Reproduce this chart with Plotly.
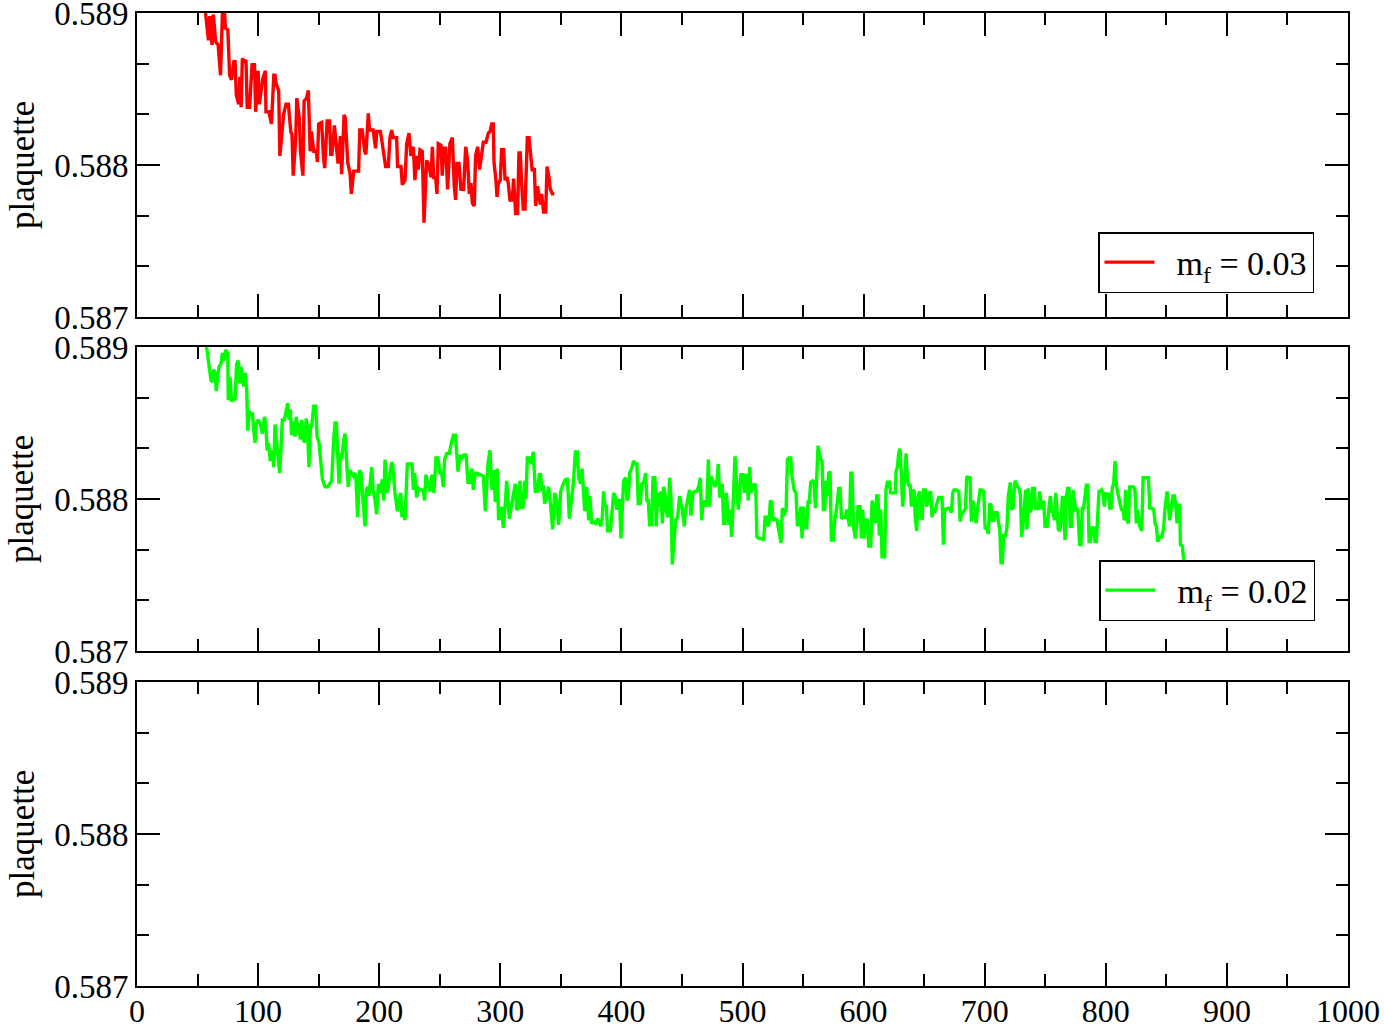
import plotly.graph_objects as go

# ---------------- data ----------------
red_x = [55, 59, 60, 62, 63, 65, 67, 68, 69, 70.5, 72, 73, 75, 76.5, 78, 80, 81, 82, 84, 85, 86, 87, 89, 90,
         91, 93, 95, 97, 98, 100, 101, 102, 104, 106, 106.5, 109, 111, 113, 114, 115, 117, 118, 120, 121,
         123, 125, 127, 128, 129, 131, 132, 134, 135, 137, 138, 140, 141.5, 143, 144, 146, 148, 149, 150,
         152.5, 154, 155, 157, 159, 160, 161, 163, 165, 166, 168, 169, 171, 172, 174, 176, 177, 179, 181,
         183, 184, 186, 188, 189, 191, 192, 195, 197, 198, 201, 202, 205.3, 207.5, 208.9, 210.3, 211.6,
         214.4, 215.2, 218, 219.1, 221.3, 222.7, 224.6, 226.2, 228.2, 229.5, 230.9, 232.3, 233.7, 235.6,
         237, 237.8, 239.2, 241.1, 242.8, 243.9, 245, 246.6, 247.7, 248.8, 251, 252.1, 253.2, 254.9, 256.5,
         258.4, 260.4, 262, 263.1, 264.2, 265.9, 267.5, 269.7, 271.4, 273, 274.4, 275.8, 276.9, 278.5,
         279.6, 281.3, 282.9, 284.6, 286, 288.2, 290.1, 291.5, 292.9, 294.2, 294.8, 296.4, 297.3, 298.4,
         300, 301.1, 302.8, 303.9, 305.5, 306.6, 308, 309.9, 311, 312.7, 314.3, 315.4, 316.5, 317.6, 319,
         320.4, 322.3, 323.7, 325.3, 326.4, 328.1, 329.2, 330.8, 331.9, 333, 334.1, 335.8, 337.5, 338.6,
         340.2, 341.3, 343, 344.6]
red_y = [0.58912, 0.58882, 0.58898, 0.58879, 0.58899, 0.58881, 0.58879, 0.58867, 0.58859, 0.58899, 0.58905,
         0.58890, 0.58889, 0.58859, 0.58856, 0.58868, 0.58868, 0.58846, 0.58840, 0.58858, 0.58838, 0.58870,
         0.58868, 0.58869, 0.58838, 0.58838, 0.58866, 0.58866, 0.58835, 0.58862, 0.58840, 0.58846, 0.58857,
         0.58862, 0.58835, 0.58835, 0.58827, 0.58859, 0.58859, 0.58853, 0.58849, 0.58806, 0.58829, 0.58833,
         0.58840, 0.58840, 0.58822, 0.58820, 0.58793, 0.58816, 0.58844, 0.58831, 0.58809, 0.58793, 0.58842,
         0.58844, 0.58849, 0.58809, 0.58822, 0.58809, 0.58809, 0.58802, 0.58827, 0.58828, 0.58805, 0.58798,
         0.58829, 0.58829, 0.58807, 0.58807, 0.58826, 0.58807, 0.58801, 0.58819, 0.58794, 0.58833, 0.58831,
         0.58802, 0.58794, 0.58781, 0.58796, 0.58796, 0.58796, 0.58823, 0.58823, 0.58809, 0.58807, 0.58834,
         0.58823, 0.58823, 0.58811, 0.58822, 0.58822, 0.58817, 0.58799, 0.58799, 0.58818, 0.58823, 0.58818,
         0.58818, 0.58799, 0.58799, 0.58787, 0.58790, 0.58814, 0.58821, 0.58806, 0.58812, 0.58790, 0.58806,
         0.58797, 0.58810, 0.58809, 0.58762, 0.58777, 0.58803, 0.58800, 0.58792, 0.58812, 0.58791, 0.58792,
         0.58781, 0.58814, 0.58813, 0.58793, 0.58811, 0.58811, 0.58784, 0.58814, 0.58818, 0.58786, 0.58777,
         0.58801, 0.58801, 0.58784, 0.58784, 0.58812, 0.58803, 0.58781, 0.58788, 0.58775, 0.58773, 0.58806,
         0.58812, 0.58797, 0.58806, 0.58815, 0.58815, 0.58821, 0.58822, 0.58827, 0.58827, 0.58802, 0.58790,
         0.58779, 0.58788, 0.58790, 0.58810, 0.58810, 0.58790, 0.58792, 0.58788, 0.58777, 0.58777, 0.58791,
         0.58768, 0.58768, 0.58808, 0.58808, 0.58788, 0.58771, 0.58771, 0.58818, 0.58818, 0.58801, 0.58796,
         0.58798, 0.58773, 0.58786, 0.58781, 0.58774, 0.58781, 0.58769, 0.58769, 0.58799, 0.58792, 0.58784,
         0.58781, 0.58781]

green_x = [55, 57.5, 59.5, 61.1, 62.2, 63.3, 64.4, 65.5, 66.6, 67.7, 69.4, 70.5, 71.6, 73.2, 74.9, 75.4, 76.8,
           78.2, 79.6, 80.9, 82.3, 83.7, 84.8, 85.9, 87.0, 88.1, 89.2, 90.6, 91.4, 92.8, 94.2, 95.3, 96.4,
           97.5, 98.6, 100.2, 101.9, 103.5, 105.2, 106.3, 107.4, 108.5, 110.1, 111.8, 112.9, 114.0, 115.1,
           116.2, 117.8, 118.9, 120.0, 121.7, 123.3, 124.4, 125.5, 126.6, 127.7, 129.4, 130.5, 131.6, 132.7,
           133.8, 134.9, 136.0, 137.1, 138.2, 139.8, 140.9, 142.0, 143.2, 144.3, 145.9, 147.6, 148.7, 150.3,
           151.4, 153.1, 155.3, 157.5, 159.1, 160.8, 162.4, 163.5, 164.6, 165.7, 166.8, 167.9, 169.0, 170.7,
           171.8, 173.4, 174.5, 175.6, 177.3, 178.9, 180.6, 182.2, 183.9, 185.0, 186.6, 188.3, 189.4, 190.5,
           191.6, 192.7, 193.8, 194.9, 196.6, 197.9, 199.3, 200.4, 201.5, 202.6, 203.7, 204.8, 206.2, 207.6,
           208.9, 210.3, 211.1, 213.0, 215.0, 216.6, 217.7, 218.8, 219.9, 221.3, 223.2, 225.4, 227.1, 228.2,
           229.3, 230.9, 232.6, 234.2, 236.4, 237.5, 238.6, 240.6, 241.9, 243.6, 245.2, 246.9, 248.5, 250.2,
           251.8, 252.9, 254.0, 255.7, 257.9, 259.6, 261.2, 262.9, 265.1, 266.7, 268.4, 270.0, 271.7, 273.3,
           275.0, 276.6, 277.7, 279.4, 281.0, 282.1, 283.8, 286.0, 287.6, 288.7, 289.8, 291.5, 293.1, 294.8,
           295.9, 297.5, 298.6, 300.8, 302.5, 304.2, 305.3, 306.4, 307.5, 309.1, 310.8, 312.4, 313.5, 315.2,
           316.3, 317.4, 319.0, 320.1, 321.2, 322.3, 324.0, 325.6, 327.3, 328.9, 330.6, 332.2, 333.3, 334.4,
           335.5, 336.6, 338.3, 339.9, 341.6, 343.2, 344.9, 346.5, 348.2, 349.9, 351.5, 353.2, 354.3, 355.4,
           357.0, 358.7, 360.3, 362.0, 363.6, 364.7, 366.4, 367.5, 368.6, 369.7, 371.3, 373.0, 374.0, 375.4,
           377.1, 378.7, 380.4, 382.0, 383.1, 384.2, 385.3, 386.4, 387.5, 388.6, 390.8, 391.9, 393.6, 394.7,
           396.3, 397.4, 398.5, 399.6, 400.7, 401.8, 403.5, 404.6, 405.7, 406.8, 408.4, 410.1, 411.7, 412.8,
           413.9, 415.6, 416.7, 418.4, 420.0, 421.1, 422.2, 423.3, 425.0, 426.1, 427.7, 428.8, 429.9, 431.0,
           432.7, 433.8, 434.9, 436.0, 437.1, 438.7, 439.8, 440.9, 442.0, 443.1, 444.8, 446.4, 448.1, 449.2,
           450.3, 451.9, 453.0, 454.1, 455.2, 456.3, 457.4, 459.1, 460.2, 462.4, 464.1, 465.2, 466.3, 467.4,
           468.5, 469.6, 470.7, 471.8, 472.9, 474.0, 475.6, 477.3, 478.9, 480.0, 481.1, 482.2, 483.3, 484.4,
           485.5, 486.6, 487.7, 488.8, 489.9, 491.0, 492.1, 493.8, 495.4, 496.5, 497.6, 498.7, 500.4, 501.5,
           502.6, 503.7, 504.8, 505.9, 507.0, 508.6, 509.7, 510.9, 511.9, 513.6, 515.8, 517.5, 518.6, 519.7,
           520.8, 521.9, 523.0, 524.1, 525.2, 526.8, 528.5, 530.1, 531.8, 532.9, 534.0, 535.1, 536.0, 537.1,
           538.2, 539.8, 540.9, 542.6, 544.2, 545.3, 547.0, 548.1, 549.2, 550.3, 551.4, 553.0, 554.1, 555.2,
           556.3, 558.0, 559.1, 560.2, 561.3, 562.4, 563.5, 564.6, 565.7, 566.8, 567.9, 569.0, 570.1, 571.2,
           572.3, 573.4, 575.0, 576.1, 577.3, 578.4, 579.5, 580.6, 581.7, 583.3, 585.0, 586.1, 587.2, 588.3,
           589.4, 590.5, 591.6, 593.2, 594.3, 595.4, 597.1, 598.2, 599.3, 600.4, 601.5, 603.1, 604.2, 605.9,
           607.0, 608.6, 609.7, 610.8, 611.9, 613.0, 614.1, 615.2, 617.4, 618.5, 619.6, 621.3, 622.4, 624.6,
           626.3, 626.8, 627.9, 629.0, 630.1, 631.2, 632.3, 633.4, 634.5, 635.1, 636.2, 637.3, 638.4, 639.5,
           640.6, 641.7, 642.8, 643.9, 645.0, 646.1, 647.2, 648.3, 649.4, 651.0, 652.1, 653.2, 654.3, 655.4,
           656.5, 657.6, 658.7, 659.8, 660.9, 662.0, 663.7, 664.8, 665.9, 667.0, 668.1, 669.8, 671.4, 672.5,
           673.6, 674.7, 676.9, 678.6, 679.7, 680.8, 681.9, 683.0, 684.1, 685.2, 686.3, 687.9, 689.0, 690.1,
           691.2, 692.9, 694.0, 695.1, 696.2, 697.5, 699.2, 700.3, 701.9, 703.0, 704.1, 705.2, 706.3, 707.4,
           708.5, 710.2, 711.3, 712.4, 713.5, 714.6, 715.7, 717.3, 718.4, 719.5, 721.2, 722.3, 723.4, 725.0,
           726.7, 728.3, 729.4, 730.5, 731.6, 732.7, 733.8, 734.9, 736.0, 737.1, 738.3, 739.4, 741.0, 742.1,
           743.2, 744.3, 745.4, 746.5, 747.6, 748.7, 749.8, 751.5, 753.1, 754.2, 755.3, 756.4, 757.5, 758.6,
           759.7, 760.8, 761.9, 763.0, 764.1, 765.2, 766.3, 767.4, 768.5, 769.6, 770.7, 771.8, 772.9, 774.0,
           775.1, 776.8, 778.4, 779.5, 780.6, 781.7, 782.8, 783.9, 785.1, 786.2, 787.3, 788.4, 790.0, 791.1,
           792.2, 793.3, 794.4, 795.5, 796.6, 797.7, 798.8, 799.9, 801.0, 802.1, 803.2, 804.3, 805.4, 806.5,
           807.6, 808.7, 809.8, 810.9, 812.0, 813.1, 814.2, 815.3, 816.4, 817.5, 818.6, 819.7, 821.4, 823.0,
           824.1, 825.2, 826.3, 828.0, 829.7, 830.8, 832.4, 834.1, 835.2, 836.3, 837.9, 839.6, 840.7, 841.8,
           842.9, 844.5, 846.2, 847.8, 848.9, 850.6, 851.7, 852.8, 853.9, 855.5, 856.6, 857.7, 858.8, 859.9,
           861.0, 861.6, 863.2, 864.3]
green_y = [0.58915, 0.58899, 0.58887, 0.58878, 0.58877, 0.58885, 0.58883, 0.58871, 0.58881, 0.58887, 0.58889,
           0.58896, 0.58891, 0.58898, 0.58896, 0.58865, 0.58880, 0.58864, 0.58866, 0.58865, 0.58889, 0.58891,
           0.58876, 0.58887, 0.58880, 0.58874, 0.58883, 0.58872, 0.58845, 0.58858, 0.58855, 0.58857, 0.58845,
           0.58837, 0.58850, 0.58852, 0.58849, 0.58843, 0.58854, 0.58850, 0.58832, 0.58837, 0.58825, 0.58832,
           0.58821, 0.58849, 0.58839, 0.58828, 0.58817, 0.58834, 0.58852, 0.58852, 0.58859, 0.58863, 0.58852,
           0.58859, 0.58842, 0.58851, 0.58841, 0.58854, 0.58843, 0.58850, 0.58839, 0.58852, 0.58841, 0.58837,
           0.58853, 0.58843, 0.58821, 0.58848, 0.58848, 0.58861, 0.58861, 0.58841, 0.58837, 0.58826, 0.58813,
           0.58808, 0.58808, 0.58810, 0.58812, 0.58839, 0.58850, 0.58850, 0.58834, 0.58810, 0.58830, 0.58826,
           0.58839, 0.58843, 0.58821, 0.58808, 0.58819, 0.58817, 0.58815, 0.58817, 0.58788, 0.58819, 0.58817,
           0.58799, 0.58782, 0.58806, 0.58808, 0.58802, 0.58813, 0.58821, 0.58806, 0.58799, 0.58790, 0.58810,
           0.58804, 0.58808, 0.58813, 0.58799, 0.58826, 0.58804, 0.58808, 0.58817, 0.58824, 0.58823, 0.58804,
           0.58792, 0.58801, 0.58804, 0.58788, 0.58795, 0.58786, 0.58823, 0.58823, 0.58823, 0.58806, 0.58817,
           0.58801, 0.58807, 0.58806, 0.58806, 0.58799, 0.58816, 0.58808, 0.58805, 0.58816, 0.58804, 0.58827,
           0.58827, 0.58817, 0.58816, 0.58808, 0.58826, 0.58830, 0.58830, 0.58837, 0.58842, 0.58842, 0.58818,
           0.58829, 0.58827, 0.58829, 0.58829, 0.58811, 0.58811, 0.58820, 0.58806, 0.58817, 0.58817, 0.58816,
           0.58816, 0.58815, 0.58792, 0.58807, 0.58823, 0.58832, 0.58806, 0.58819, 0.58798, 0.58820, 0.58786,
           0.58795, 0.58781, 0.58798, 0.58812, 0.58799, 0.58787, 0.58795, 0.58804, 0.58810, 0.58793, 0.58794,
           0.58812, 0.58794, 0.58795, 0.58812, 0.58800, 0.58827, 0.58827, 0.58823, 0.58831, 0.58805, 0.58805,
           0.58816, 0.58816, 0.58805, 0.58809, 0.58797, 0.58801, 0.58808, 0.58795, 0.58780, 0.58804, 0.58799,
           0.58783, 0.58805, 0.58809, 0.58812, 0.58811, 0.58814, 0.58787, 0.58800, 0.58810, 0.58831, 0.58831,
           0.58814, 0.58810, 0.58820, 0.58808, 0.58792, 0.58808, 0.58786, 0.58802, 0.58784, 0.58785, 0.58784,
           0.58787, 0.58783, 0.58782, 0.58788, 0.58805, 0.58795, 0.58796, 0.58779, 0.58779, 0.58788, 0.58804,
           0.58802, 0.58793, 0.58799, 0.58799, 0.58774, 0.58799, 0.58812, 0.58814, 0.58799, 0.58801, 0.58817,
           0.58820, 0.58825, 0.58823, 0.58823, 0.58797, 0.58797, 0.58810, 0.58811, 0.58817, 0.58799, 0.58799,
           0.58783, 0.58783, 0.58814, 0.58814, 0.58782, 0.58804, 0.58795, 0.58805, 0.58784, 0.58808, 0.58804,
           0.58791, 0.58788, 0.58814, 0.58802, 0.58757, 0.58771, 0.58786, 0.58788, 0.58802, 0.58797, 0.58793,
           0.58782, 0.58793, 0.58797, 0.58801, 0.58806, 0.58789, 0.58804, 0.58805, 0.58805, 0.58809, 0.58814,
           0.58786, 0.58797, 0.58799, 0.58795, 0.58799, 0.58826, 0.58795, 0.58815, 0.58812, 0.58808, 0.58812,
           0.58823, 0.58802, 0.58802, 0.58810, 0.58784, 0.58784, 0.58804, 0.58793, 0.58783, 0.58793, 0.58775,
           0.58793, 0.58828, 0.58806, 0.58793, 0.58803, 0.58816, 0.58816, 0.58804, 0.58816, 0.58815, 0.58799,
           0.58821, 0.58804, 0.58810, 0.58808, 0.58810, 0.58775, 0.58774, 0.58774, 0.58773, 0.58788, 0.58788,
           0.58782, 0.58784, 0.58799, 0.58798, 0.58786, 0.58787, 0.58786, 0.58779, 0.58771, 0.58794, 0.58789,
           0.58791, 0.58793, 0.58826, 0.58827, 0.58827, 0.58815, 0.58806, 0.58804, 0.58783, 0.58783, 0.58795,
           0.58774, 0.58795, 0.58781, 0.58781, 0.58798, 0.58798, 0.58811, 0.58812, 0.58811, 0.58794, 0.58823,
           0.58835, 0.58830, 0.58826, 0.58825, 0.58793, 0.58793, 0.58812, 0.58802, 0.58817, 0.58818, 0.58773,
           0.58773, 0.58786, 0.58791, 0.58799, 0.58807, 0.58807, 0.58787, 0.58788, 0.58788, 0.58793, 0.58787,
           0.58782, 0.58817, 0.58817, 0.58782, 0.58774, 0.58782, 0.58795, 0.58795, 0.58774, 0.58793, 0.58774,
           0.58786, 0.58786, 0.58769, 0.58769, 0.58799, 0.58793, 0.58784, 0.58802, 0.58802, 0.58776, 0.58793,
           0.58762, 0.58762, 0.58806, 0.58811, 0.58811, 0.58804, 0.58804, 0.58804, 0.58818, 0.58821, 0.58830,
           0.58833, 0.58815, 0.58795, 0.58810, 0.58822, 0.58830, 0.58812, 0.58809, 0.58809, 0.58795, 0.58806,
           0.58805, 0.58786, 0.58779, 0.58802, 0.58805, 0.58793, 0.58786, 0.58806, 0.58806, 0.58795, 0.58801,
           0.58804, 0.58805, 0.58788, 0.58794, 0.58791, 0.58795, 0.58798, 0.58801, 0.58801, 0.58801, 0.58770,
           0.58794, 0.58793, 0.58794, 0.58794, 0.58791, 0.58804, 0.58806, 0.58806, 0.58805, 0.58785, 0.58791,
           0.58791, 0.58792, 0.58794, 0.58815, 0.58814, 0.58814, 0.58785, 0.58799, 0.58794, 0.58784, 0.58793,
           0.58801, 0.58806, 0.58806, 0.58805, 0.58781, 0.58780, 0.58777, 0.58797, 0.58796, 0.58786, 0.58786,
           0.58791, 0.58791, 0.58786, 0.58780, 0.58758, 0.58758, 0.58776, 0.58776, 0.58782, 0.58802, 0.58811,
           0.58793, 0.58794, 0.58812, 0.58809, 0.58807, 0.58803, 0.58775, 0.58782, 0.58793, 0.58806, 0.58780,
           0.58807, 0.58791, 0.58793, 0.58807, 0.58807, 0.58793, 0.58795, 0.58793, 0.58805, 0.58797, 0.58793,
           0.58799, 0.58782, 0.58782, 0.58793, 0.58802, 0.58791, 0.58793, 0.58786, 0.58804, 0.58793, 0.58780,
           0.58779, 0.58784, 0.58801, 0.58801, 0.58773, 0.58801, 0.58807, 0.58807, 0.58782, 0.58782, 0.58806,
           0.58797, 0.58793, 0.58794, 0.58770, 0.58770, 0.58794, 0.58794, 0.58804, 0.58809, 0.58809, 0.58772,
           0.58772, 0.58781, 0.58781, 0.58772, 0.58772, 0.58793, 0.58805, 0.58805, 0.58806, 0.58804, 0.58795,
           0.58804, 0.58803, 0.58803, 0.58794, 0.58794, 0.58808, 0.58810, 0.58825, 0.58809, 0.58804, 0.58802,
           0.58796, 0.58793, 0.58793, 0.58786, 0.58806, 0.58786, 0.58784, 0.58808, 0.58808, 0.58808, 0.58806,
           0.58784, 0.58793, 0.58782, 0.58779, 0.58814, 0.58814, 0.58814, 0.58814, 0.58794, 0.58794, 0.58793,
           0.58784, 0.58782, 0.58772, 0.58775, 0.58775, 0.58781, 0.58794, 0.58805, 0.58795, 0.58786, 0.58793,
           0.58802, 0.58802, 0.58797, 0.58784, 0.58796, 0.58796, 0.58770, 0.58769, 0.58760]

series_names = ["&#160;&#160;m<sub>f</sub> = 0.03", "&#160;&#160;m<sub>f</sub> = 0.02"]
series_colors = ["#ff0000", "#00ff00"]
x_range = [0, 1000]
y_range = [0.587, 0.589]
y_ticks = [0.587, 0.588, 0.589]
y_ticktext = ["0.587", "0.588", "0.589"]
x_ticks = [0, 100, 200, 300, 400, 500, 600, 700, 800, 900, 1000]
y_title = "plaquette"

FONT = "Liberation Serif, Times New Roman, serif"

fig = go.Figure()
fig.add_trace(go.Scatter(x=red_x, y=red_y, mode="lines", name=series_names[0],
                         line=dict(color=series_colors[0], width=3.4), xaxis="x", yaxis="y",
                         legend="legend"))
fig.add_trace(go.Scatter(x=green_x, y=green_y, mode="lines", name=series_names[1],
                         line=dict(color=series_colors[1], width=3.4), xaxis="x2", yaxis="y2",
                         legend="legend2"))
fig.add_trace(go.Scatter(x=[], y=[], mode="lines", showlegend=False, xaxis="x3", yaxis="y3"))

H = 1029
W = 1384
ml, mr, mt, mb = 137, 36, 13, 43
ph = H - mt - mb
pw = W - ml - mr


def dom(top_px, bot_px):
    return [(H - mb - bot_px) / ph, (H - mb - top_px) / ph]


def xax(anchor, labels):
    return dict(range=x_range, anchor=anchor, showgrid=False, zeroline=False,
                showline=True, linecolor="black", linewidth=2, mirror="ticks",
                ticks="inside", ticklen=23, tickwidth=2, tickcolor="black",
                tickvals=x_ticks, showticklabels=labels, ticklabeloverflow="allow",
                ticklabelstandoff=-4,
                tickfont=dict(family=FONT, size=32, color="black"),
                minor=dict(dtick=50, tick0=0, ticks="inside", ticklen=12, tickwidth=2,
                           tickcolor="black", showgrid=False))


def yax(anchor, domain):
    return dict(range=y_range, anchor=anchor, domain=domain, showgrid=False, zeroline=False,
                showline=True, linecolor="black", linewidth=2, mirror="ticks",
                ticks="inside", ticklen=23, tickwidth=2, tickcolor="black",
                tickvals=y_ticks, ticktext=y_ticktext, ticklabeloverflow="allow",
                tickfont=dict(family=FONT, size=33, color="black"),
                minor=dict(dtick=0.001 / 3, tick0=0.587, ticks="inside", ticklen=12, tickwidth=2,
                           tickcolor="black", showgrid=False))


legend_common = dict(xanchor="right", yanchor="bottom", bgcolor="white", bordercolor="black",
                     borderwidth=1.5, font=dict(family=FONT, size=34, color="black"),
                     itemwidth=50, tracegroupgap=0)

# y-axis titles, one per panel, set left of the tick labels
title_x = (22 - ml) / pw
annotations = [dict(text=y_title, xref="paper", yref=yr + " domain", x=title_x, y=0.5,
                    xanchor="center", yanchor="middle", textangle=-90, showarrow=False,
                    font=dict(family=FONT, size=35, color="black"))
               for yr in ["y", "y2", "y3"]]

fig.update_layout(
    width=W, height=H,
    margin=dict(l=ml, r=mr, t=mt, b=mb, autoexpand=False),
    paper_bgcolor="white", plot_bgcolor="white",
    font=dict(family=FONT, color="black"),
    xaxis=xax("y", False),
    yaxis=yax("x", dom(13, 317)),
    xaxis2=xax("y2", False),
    yaxis2=yax("x2", dom(347, 651)),
    xaxis3=xax("y3", True),
    yaxis3=yax("x3", dom(682, 986)),
    legend=dict(x=(1314 - ml) / pw, y=(H - mb - 293) / ph, **legend_common),
    legend2=dict(x=(1315 - ml) / pw, y=(H - mb - 621) / ph, **legend_common),
    annotations=annotations,
    showlegend=True,
)

fig.write_html("out.html", config={"displayModeBar": False},
               post_script="document.body.style.margin='0px';document.body.style.overflow='hidden';")
